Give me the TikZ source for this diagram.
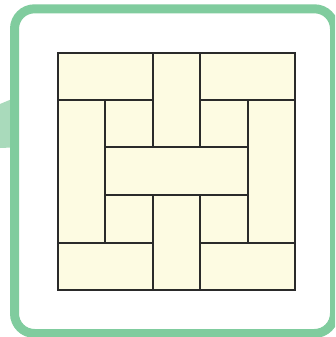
\documentclass[tikz,border=0pt]{standalone}
\usepackage{tikz}
\definecolor{framegreen}{HTML}{80CC9E}
\definecolor{tabgreen}{HTML}{A9DABB}
\definecolor{tilefill}{HTML}{FDFBE2}
\definecolor{tileline}{HTML}{2A2A2A}
\tikzset{
  tile/.style={fill=tilefill, draw=tileline, line width=1.6pt, line join=miter},
  frameline/.style={draw=framegreen, line width=9pt, rounded corners=20pt},
  tabshape/.style={fill=tabgreen, draw=none}
}
\begin{document}
\begin{tikzpicture}[x=1pt,y=-1pt]
\useasboundingbox (0,0) rectangle (335,337);
\clip (0,0) rectangle (335,337);
\fill[white] (0,0) rectangle (335,337);
% tab
\path[tabshape] (0,104) -- (12,99) -- (12,147.5) -- (0,148) -- cycle;
% frame
\path[frameline, fill=white] (14.5,8.8) rectangle (334.5,333.5);
% tiles
\path[tile] (58,53) rectangle (153,100);
\path[tile] (153,53) rectangle (200,147);
\path[tile] (200,53) rectangle (295,100);
\path[tile] (58,100) rectangle (105,243);
\path[tile] (105,100) rectangle (153,147);
\path[tile] (200,100) rectangle (248,147);
\path[tile] (248,100) rectangle (295,243);
\path[tile] (105,147) rectangle (248,195);
\path[tile] (105,195) rectangle (153,243);
\path[tile] (200,195) rectangle (248,243);
\path[tile] (153,195) rectangle (200,290);
\path[tile] (58,243) rectangle (153,290);
\path[tile] (200,243) rectangle (295,290);
\end{tikzpicture}
\end{document}
